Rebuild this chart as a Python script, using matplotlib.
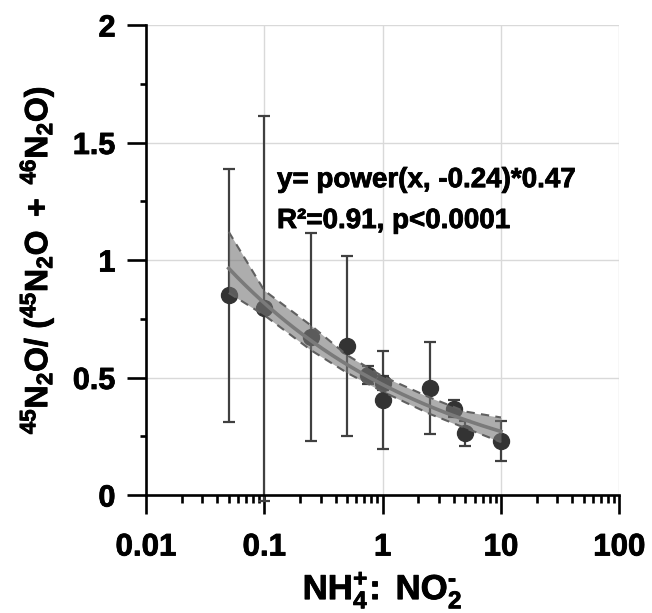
import numpy as np
import matplotlib
matplotlib.use('Agg')
import matplotlib.pyplot as plt
import matplotlib.patheffects as pe
from matplotlib.ticker import FixedLocator, FixedFormatter, NullFormatter

# ---- data ----
ratio = [0.05, 0.1, 0.25, 0.5, 0.75, 1, 1, 2.5, 4, 5, 10]
frac = [0.849, 0.794, 0.671, 0.634, 0.511, 0.475, 0.404, 0.456, 0.368, 0.262, 0.231]
sd = [0.54, 0.82, 0.443, 0.383, 0.04, 0.03, 0.208, 0.197, 0.035, 0.053, 0.085]

fit_a = 0.47
fit_b = -0.24
fit_range = [0.05, 10]

band_x = [0.05, 0.1, 0.25, 0.5, 1, 2.5, 5, 10]
band_upper = [1.12, 0.87, 0.72, 0.595, 0.505, 0.415, 0.355, 0.33]
band_lower = [0.86, 0.765, 0.615, 0.52, 0.44, 0.345, 0.285, 0.225]

xticks = [0.01, 0.1, 1, 10, 100]
xticklabels = ['0.01', '0.1', '1', '10', '100']
yticks = [0, 0.5, 1, 1.5, 2]
yticklabels = ['0', '0.5', '1', '1.5', '2']
yminor = [0.25, 0.75, 1.25, 1.75]

eq_text = 'y= power(x, -0.24)*0.47'
stat_text = 'R\u00b2=0.91, p<0.0001'

# ---- style ----
plt.rcParams['font.family'] = ['Liberation Sans', 'DejaVu Sans']
plt.rcParams['font.weight'] = 'bold'
plt.rcParams['mathtext.fontset'] = 'custom'
plt.rcParams['mathtext.rm'] = 'Liberation Sans:bold'
plt.rcParams['mathtext.bf'] = 'Liberation Sans:bold'
plt.rcParams['mathtext.it'] = 'Liberation Sans:bold'

heavy = [pe.withStroke(linewidth=0.6, foreground='black')]

fig = plt.figure(figsize=(6.52, 6.13), dpi=100)
ax = fig.add_axes([146 / 652, 1 - 495 / 613, (619.3 - 146) / 652, (495 - 25) / 613])

ax.set_xscale('log')
ax.set_xlim(0.01, 100)
ax.set_ylim(0, 2)

# grid
for xv in xticks[1:]:
    ax.axvline(xv, color='#d9d9d9', lw=1.0, zorder=0)
for yv in yticks[1:]:
    ax.axhline(yv, color='#d9d9d9', lw=1.0, zorder=0)

# points with error bars
eb = ax.errorbar(ratio, frac, yerr=sd, fmt='o', ms=11.5, color='#333333',
                 mfc='#333333', mec='#333333', ecolor='#404040', elinewidth=1.6,
                 capsize=4.5, capthick=1.6, zorder=3)
for art in eb.lines[1] + eb.lines[2]:
    art.set_clip_on(False)
eb.lines[0].set_clip_on(False)

# confidence band (drawn over points, semi-transparent)
ax.fill_between(band_x, band_lower, band_upper, color='#777777', alpha=0.6,
                lw=0, zorder=4)
ax.plot(band_x, band_upper, color='#606060', lw=1.5, ls=(0, (4, 3)), zorder=5)
ax.plot(band_x, band_lower, color='#606060', lw=1.5, ls=(0, (4, 3)), zorder=5)

# fitted power curve
fx = np.geomspace(fit_range[0], fit_range[1], 200)
ax.plot(fx, fit_a * fx ** fit_b, color='#7a7a7a', lw=2.6, zorder=6)

# spines
for s in ['top', 'right']:
    ax.spines[s].set_visible(False)
for s in ['left', 'bottom']:
    ax.spines[s].set_linewidth(1.9)
    ax.spines[s].set_color('black')
    ax.spines[s].set_zorder(7)

# ticks
ax.xaxis.set_major_locator(FixedLocator(xticks))
ax.xaxis.set_major_formatter(FixedFormatter(xticklabels))
minor_x = [m * 10.0 ** e for e in range(-2, 2) for m in range(2, 10)]
ax.xaxis.set_minor_locator(FixedLocator(minor_x))
ax.xaxis.set_minor_formatter(NullFormatter())
ax.yaxis.set_major_locator(FixedLocator(yticks))
ax.yaxis.set_major_formatter(FixedFormatter(yticklabels))
ax.yaxis.set_minor_locator(FixedLocator(yminor))

ax.tick_params(axis='both', which='major', direction='out', length=14, width=1.9,
               color='black')
ax.tick_params(axis='x', which='minor', direction='out', length=6, width=1.9,
               color='black')
ax.tick_params(axis='y', which='minor', direction='out', length=4.5, width=1.9,
               color='black')
ax.tick_params(axis='x', which='major', labelsize=22.5, pad=13)
ax.tick_params(axis='y', which='major', labelsize=22, pad=8)
for lab in ax.get_xticklabels() + ax.get_yticklabels():
    lab.set_fontweight('bold')
    lab.set_path_effects(heavy)

xl = ax.set_xlabel('$\\mathbf{NH_4^{+}\\!:\\;NO_2^{\u2010}}$', fontsize=25, labelpad=5)
yl = ax.set_ylabel(r'$\mathbf{^{45}N_2O/\ (^{45}N_2O\;+\;^{46}N_2O)}$', fontsize=23,
                   labelpad=12)
xl.set_path_effects(heavy)
yl.set_path_effects(heavy)

t1 = ax.text(0.128, 1.31, eq_text, fontsize=20, fontweight='bold', va='baseline',
             ha='left', zorder=8)
t2 = ax.text(0.128, 1.136, stat_text, fontsize=20, fontweight='bold', va='baseline',
             ha='left', zorder=8)
t1.set_path_effects(heavy)
t2.set_path_effects(heavy)

fig.savefig('out.png', dpi=100)
